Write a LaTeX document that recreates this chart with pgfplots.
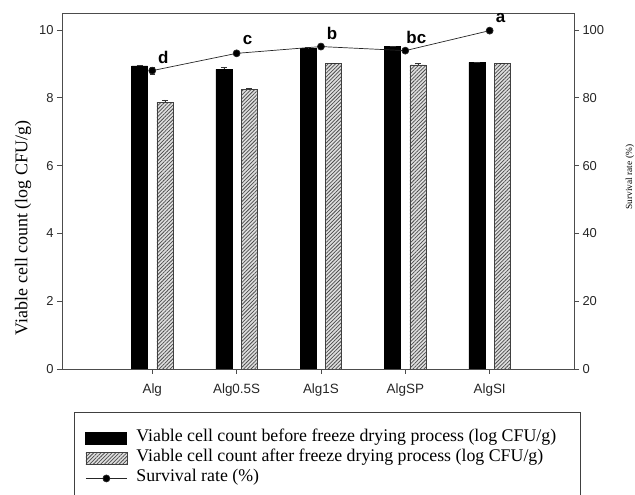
\documentclass[border=0pt]{standalone}
\usepackage{pgfplots}
\pgfplotsset{compat=1.18}
\usepackage{pgfplotstable}
\usepackage{fontspec}
\setmainfont{Liberation Sans}
\newfontfamily\serifont{Liberation Serif}
\usetikzlibrary{patterns.meta}

% viable cell counts (log CFU/g) and survival rate (%)
\pgfplotstableread{
x before eb after ea surv es lab
0 8.94 0.02 7.86 0.08 88.0 1.0 d
1 8.84 0.05 8.25 0.02 93.1 0.5 c
2 9.46 0.02 9.01 0.02 95.1 0.4 b
3 9.51 0.02 8.97 0.04 93.9 0.5 bc
4 9.04 0.02 9.01 0.02 99.8 0.3 a
}\datatable

\pgfplotsset{
  hatched/.style={fill=gray!25, draw=black!75, line width=0.6bp,
    postaction={pattern color=black!70, pattern={Lines[angle=45,distance=2.6bp,line width=0.75bp]}}},
  solidbar/.style={fill=black, draw=black},
  barlegend/.style={legend image code/.code={\draw[##1] (0bp,-6bp) rectangle (41bp,6bp);}},
  linelegend/.style={legend image code/.code={%
    \draw[mark repeat=2,mark phase=2,##1] plot coordinates {(0bp,0bp) (20.5bp,0bp) (41bp,0bp)};}},
  common/.style={
    scale only axis, width=512bp, height=356bp,
    at={(62bp,126bp)}, anchor=south west,
    xmin=-1.07, xmax=5.0,
    tick align=outside, major tick length=5bp,
    tick style={black!70, line width=0.8bp},
    axis line style={black!70, line width=0.8bp},
    ticklabel style={font=\fontsize{13}{15}\selectfont, text=black!85},
    /pgf/number format/assume math mode=true,
  },
}

\begin{document}
\begin{tikzpicture}
\path[use as bounding box] (0bp,0bp) rectangle (635bp,495bp);
\begin{axis}[common,
  ymin=0, ymax=10.5,
  ytick={0,2,4,6,8,10}, ytick pos=left,
  xtick=data, xtick pos=bottom,
  xticklabels={Alg, Alg0.5S, Alg1S, AlgSP, AlgSI},
  xticklabel style={font=\fontsize{13.5}{15}\selectfont, yshift=-6bp},
  ylabel={Viable cell count (log CFU/g)},
  ylabel style={at={(axis description cs:-0.076,0.396)}, anchor=center, rotate=0,
    font=\serifont\fontsize{18}{20}\selectfont},
  ybar, bar width=0.19,
  error bars/error bar style={black!80, line width=0.6bp},
  error bars/error mark options={rotate=90, mark size=3bp, black!80},
]
\addplot[solidbar, bar shift=-0.15,
  error bars/.cd, y dir=plus, y explicit]
  table[x=x, y=before, y error=eb] {\datatable};
\addplot[hatched, bar shift=0.15,
  error bars/.cd, y dir=plus, y explicit]
  table[x=x, y=after, y error=ea] {\datatable};
\end{axis}

\begin{axis}[common,
  ymin=0, ymax=105,
  axis x line=none, axis y line*=right,
  ytick={0,20,40,60,80,100},
  ylabel={Survival rate (\%)},
  ylabel style={at={(axis description cs:1.109,0.539)}, anchor=center, rotate=0,
    font=\serifont\fontsize{9.4}{11}\selectfont},
  legend style={at={(axis description cs:0.0234,-0.1208)}, anchor=north west,
    draw=black!75, line width=0.9bp, inner xsep=11bp, inner ysep=16bp,
    row sep=0bp, column sep=8bp, cells={anchor=west},
    nodes={text height=13bp, text depth=7bp, inner ysep=0bp, inner xsep=1bp},
    font=\serifont\fontsize{17.9}{20}\selectfont},
  legend cell align=left,
]
\addlegendimage{solidbar, barlegend}
\addlegendentry{\makebox[432bp][l]{Viable cell count before freeze drying process (log CFU/g)}}
\addlegendimage{hatched, barlegend}
\addlegendentry{Viable cell count after freeze drying process (log CFU/g)}
\addplot[black!85, line width=0.7bp, mark=*, mark size=3.5bp,
  mark options={fill=black}, linelegend,
  error bars/.cd, y dir=both, y explicit,
  error bar style={black!80, line width=0.6bp},
  error mark options={rotate=90, mark size=2.5bp, black!80}]
  table[x=x, y=surv, y error=es] {\datatable};
\addlegendentry{Survival rate (\%)}
\addlegendimage{empty legend}
\addlegendentry{}
\addlegendimage{empty legend}
\addlegendentry{}
\addplot[draw=none, mark=none, point meta=explicit symbolic,
  nodes near coords={\pgfplotspointmeta},
  nodes near coords style={font=\fontsize{17}{17}\selectfont\bfseries,
    anchor=center, xshift=11bp, yshift=13bp},
  forget plot]
  table[x=x, y=surv, meta=lab] {\datatable};
\end{axis}
\end{tikzpicture}
\end{document}
